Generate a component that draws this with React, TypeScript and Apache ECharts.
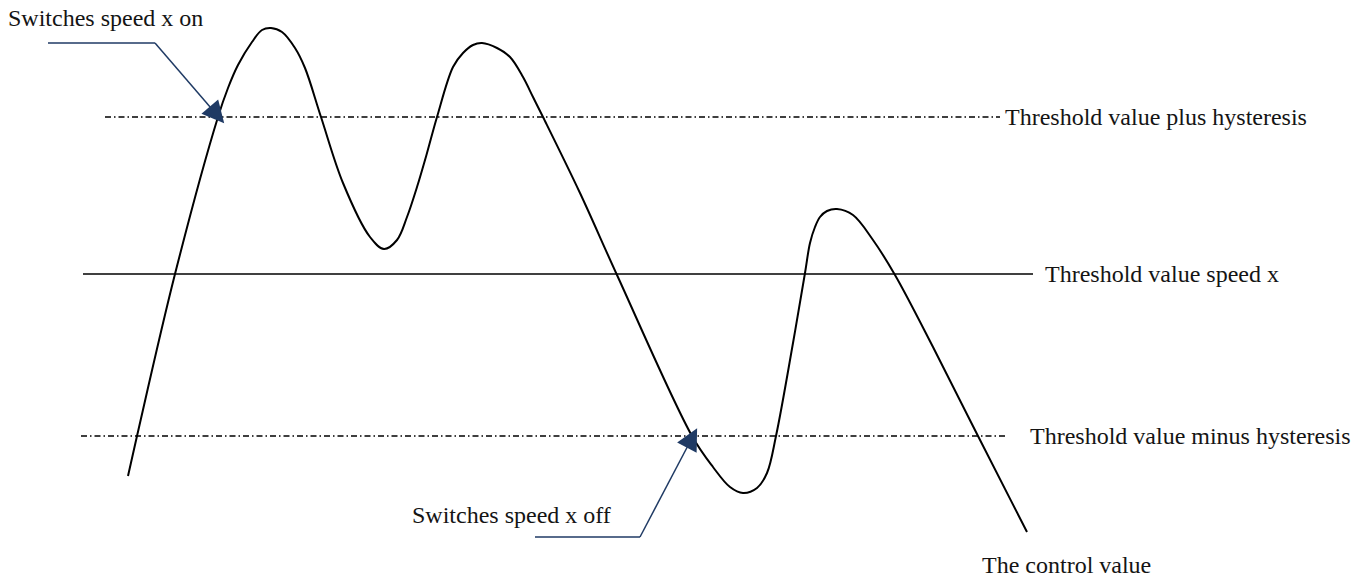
import React, { useEffect, useRef } from "react";
import * as echarts from "echarts";

// Control value over time (x = time units, y = control value units)
const controlValue: [number, number][] = [
  [128, 102], [137, 142], [175, 304], [218, 461], [228, 490], [238, 513],
  [252, 536], [262, 548], [271, 550], [282, 546], [295, 530], [305, 510],
  [321, 461], [343, 395], [370, 341], [384, 329], [397, 338], [407, 361],
  [417, 391], [427, 425], [437, 461], [453, 511], [463, 525], [473, 533],
  [482, 535], [497, 530], [510, 521], [523, 501], [533, 481], [543, 461],
  [580, 385], [617, 303], [692, 142], [713, 111], [730, 91], [743, 85],
  [757, 90], [767, 105], [776, 142], [793, 235], [805, 305], [810, 335],
  [815, 351], [820, 361], [827, 367], [837, 369], [853, 363], [873, 338],
  [895, 303], [933, 231], [978, 142], [1027, 46],
];

// Levels
const thresholdLevel = 304;
const plusHysteresisLevel = 461;
const minusHysteresisLevel = 142;

// Horizontal extents of the level lines
const plusExtent = [105, 1000];
const thresholdExtent = [83, 1033];
const minusExtent = [81, 1005];

// Annotation leaders: horizontal underline, then pointer to the switching point
const onUnderline: [number, number][] = [[48, 535], [155, 535]];
const onPointer: [number, number][] = [[155, 535], [217, 463]];
const offUnderline: [number, number][] = [[535, 41], [640, 41]];
const offPointer: [number, number][] = [[640, 41], [692, 140]];

const labels = {
  plus: "Threshold value plus hysteresis",
  threshold: "Threshold value speed x",
  minus: "Threshold value minus hysteresis",
  on: "Switches speed x on",
  off: "Switches speed x off",
  control: "The control value",
};

const FONT = "'Liberation Serif', 'Times New Roman', serif";
const TEXT_COLOR = "#141414";
const ARROW_COLOR = "#1f3a64";
const FS = 24;

// Centripetal Catmull-Rom spline through pixel points -> SVG path data
function splinePath(pts: number[][]): string {
  if (pts.length < 2) return "";
  const n = pts.length;
  const get = (i: number) => {
    if (i < 0) return [2 * pts[0][0] - pts[1][0], 2 * pts[0][1] - pts[1][1]];
    if (i >= n) return [2 * pts[n - 1][0] - pts[n - 2][0], 2 * pts[n - 1][1] - pts[n - 2][1]];
    return pts[i];
  };
  const dist = (a: number[], b: number[]) =>
    Math.max(1e-6, Math.sqrt(Math.hypot(a[0] - b[0], a[1] - b[1])));
  let d = `M${pts[0][0]},${pts[0][1]}`;
  for (let i = 0; i < n - 1; i++) {
    const p0 = get(i - 1), p1 = get(i), p2 = get(i + 1), p3 = get(i + 2);
    const d1 = dist(p0, p1), d2 = dist(p1, p2), d3 = dist(p2, p3);
    const b1 = [0, 1].map(
      (k) =>
        (d1 * d1 * p2[k] - d2 * d2 * p0[k] + (2 * d1 * d1 + 3 * d1 * d2 + d2 * d2) * p1[k]) /
        (3 * d1 * (d1 + d2))
    );
    const b2 = [0, 1].map(
      (k) =>
        (d3 * d3 * p1[k] - d2 * d2 * p3[k] + (2 * d3 * d3 + 3 * d3 * d2 + d2 * d2) * p2[k]) /
        (3 * d3 * (d3 + d2))
    );
    d += ` C${b1[0]},${b1[1]} ${b2[0]},${b2[1]} ${p2[0]},${p2[1]}`;
  }
  return d;
}

export default function App() {
  const ref = useRef<HTMLDivElement>(null);

  useEffect(() => {
    if (!ref.current) return;
    const chart = echarts.init(ref.current, undefined, { renderer: "svg" });

    const dashDot = [6, 3, 1.5, 3];
    const levelSeries = (
      name: string,
      level: number,
      extent: number[],
      type: any,
      distance: number
    ) => ({
      type: "line",
      name,
      data: [
        [extent[0], level],
        [extent[1], level],
      ],
      symbol: "none",
      silent: true,
      lineStyle: { color: "#000", width: 1.5, type },
      endLabel: {
        show: true,
        formatter: name,
        distance,
        color: TEXT_COLOR,
        fontSize: FS,
        fontFamily: FONT,
      },
      z: 2,
    });

    const textEl = (text: string, x: number, y: number) => ({
      type: "text",
      x,
      y,
      style: {
        text,
        font: `${FS}px ${FONT}`,
        fill: TEXT_COLOR,
        textAlign: "left",
        textVerticalAlign: "middle",
      },
    });

    chart.setOption({
      animation: false,
      backgroundColor: "#ffffff",
      grid: { left: 0, right: 0, top: 0, bottom: 0, containLabel: false },
      xAxis: { type: "value", min: 0, max: 1366, show: false },
      yAxis: { type: "value", min: 0, max: 578, show: false },
      series: [
        levelSeries(labels.plus, plusHysteresisLevel, plusExtent, dashDot, 5),
        levelSeries(labels.threshold, thresholdLevel, thresholdExtent, "solid", 12),
        levelSeries(labels.minus, minusHysteresisLevel, minusExtent, dashDot, 25),
        {
          type: "custom",
          name: labels.control,
          coordinateSystem: "cartesian2d",
          data: controlValue,
          encode: { x: 0, y: 1 },
          clip: false,
          silent: true,
          z: 3,
          renderItem: (params: any, api: any) => {
            if (params.dataIndex !== 0) return null;
            const pts = controlValue.map((p) => api.coord(p));
            return {
              type: "path",
              shape: { pathData: splinePath(pts) },
              style: { stroke: "#000", lineWidth: 2, fill: "none" },
            };
          },
        },
        {
          type: "lines",
          coordinateSystem: "cartesian2d",
          silent: true,
          symbol: ["none", "none"],
          lineStyle: { color: ARROW_COLOR, width: 1.5, opacity: 1, curveness: 0 },
          data: [{ coords: onUnderline }, { coords: offUnderline }],
          z: 4,
        },
        {
          type: "lines",
          coordinateSystem: "cartesian2d",
          silent: true,
          symbol: ["none", "triangle"],
          symbolSize: [13, 22],
          lineStyle: { color: ARROW_COLOR, width: 1.5, opacity: 1, curveness: 0 },
          data: [{ coords: onPointer }, { coords: offPointer }],
          z: 4,
        },
      ],
      graphic: [
        textEl(labels.on, 8, 18),
        textEl(labels.off, 412, 515),
        textEl(labels.control, 982, 565),
      ],
    });

    return () => chart.dispose();
  }, []);

  return (
    <div
      ref={ref}
      style={{ position: "fixed", left: 0, top: 0, width: 1366, height: 578, background: "#fff" }}
    />
  );
}
